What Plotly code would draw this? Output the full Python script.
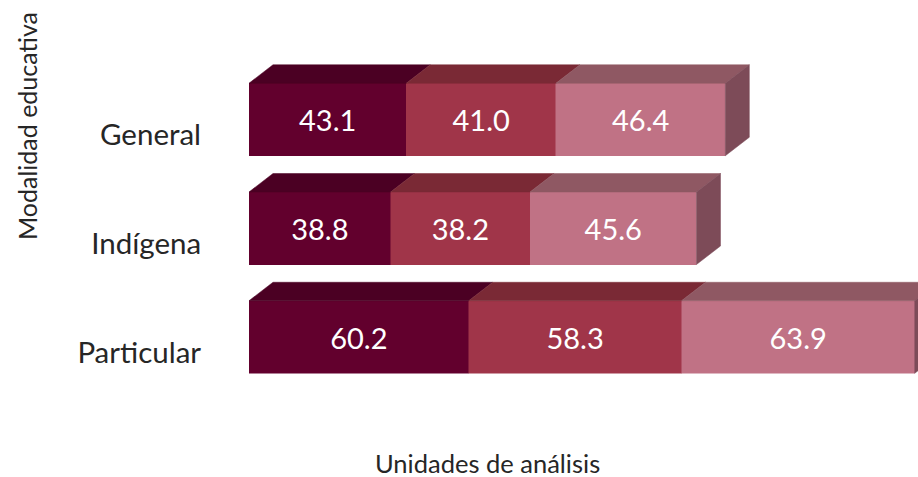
import plotly.graph_objects as go

categories = ["General", "Indígena", "Particular"]
serie_1 = [43.1, 38.8, 60.2]
serie_2 = [41.0, 38.2, 58.3]
serie_3 = [46.4, 45.6, 63.9]
series = [serie_1, serie_2, serie_3]

front_colors = ["#62002D", "#A03549", "#C07285"]
top_colors = ["#4B0023", "#7A2935", "#8F5863"]
side_color = "#7D4B58"

W, H = 918, 477
X0_PX = 249
PX_PER_UNIT = 3.65
PITCH_PX = 108.75
FIRST_PX = 119.5
BAR_PX = 72.5
DX = 24 / PX_PER_UNIT
DY = 18.5 / PITCH_PX
HALF = BAR_PX / PITCH_PX / 2
FONT = "Lato, Carlito, Calibri, sans-serif"
TEXT = "#262626"

y_pos = list(range(len(categories)))
fig = go.Figure()

# front faces
for s, values in enumerate(series):
    fig.add_trace(go.Bar(
        x=values, y=y_pos, orientation="h", width=BAR_PX / PITCH_PX,
        marker=dict(color=front_colors[s], line=dict(color=front_colors[s], width=0.5)),
        text=[f"{v:.1f}" for v in values], textposition="inside", insidetextanchor="middle",
        textangle=0, constraintext="none",
        insidetextfont=dict(family=FONT, size=29, color="white"),
        showlegend=False, hoverinfo="skip",
    ))

# 3-D top faces and end caps, derived from the same values
for i, y in enumerate(y_pos):
    base = 0
    for s, values in enumerate(series):
        v = values[i]
        t = y - HALF
        fig.add_trace(go.Scatter(
            x=[base, base + v, base + v + DX, base + DX, base],
            y=[t, t, t - DY, t - DY, t],
            mode="lines", fill="toself", fillcolor=top_colors[s],
            line=dict(color=top_colors[s], width=0.5),
            showlegend=False, hoverinfo="skip",
        ))
        base += v
    b = y + HALF
    t = y - HALF
    fig.add_trace(go.Scatter(
        x=[base, base + DX, base + DX, base, base],
        y=[t, t - DY, b - DY, b, t],
        mode="lines", fill="toself", fillcolor=side_color,
        line=dict(color=side_color, width=0.5),
        showlegend=False, hoverinfo="skip",
    ))

fig.update_layout(
    width=W, height=H, barmode="stack", paper_bgcolor="white", plot_bgcolor="white",
    margin=dict(l=X0_PX, r=0, t=0, b=0),
    font=dict(family=FONT, color=TEXT),
    xaxis=dict(range=[0, (W - X0_PX) / PX_PER_UNIT], visible=False, fixedrange=True),
    yaxis=dict(
        range=[(H - FIRST_PX) / PITCH_PX, -FIRST_PX / PITCH_PX],
        tickmode="array", tickvals=[y + 0.14 for y in y_pos], ticktext=categories,
        tickfont=dict(family=FONT, size=29.5, color=TEXT),
        ticks="outside", ticklen=41, tickcolor="rgba(0,0,0,0)", showline=False,
        showgrid=False, zeroline=False, fixedrange=True,
    ),
    annotations=[
        dict(text="Unidades de análisis", xref="paper", yref="paper",
             x=(487 - X0_PX) / (W - X0_PX), y=1 - 462.5 / H, showarrow=False,
             xanchor="center", yanchor="middle",
             font=dict(family=FONT, size=25.5, color=TEXT)),
        dict(text="Modalidad educativa", xref="paper", yref="paper",
             x=(27 - X0_PX) / (W - X0_PX), y=1 - 126 / H, showarrow=False, textangle=-90,
             xanchor="center", yanchor="middle",
             font=dict(family=FONT, size=25, color=TEXT)),
    ],
)

fig.write_html("out.html", config={"displayModeBar": False},
               post_script="document.body.style.margin='0';document.documentElement.style.overflow='hidden';")
